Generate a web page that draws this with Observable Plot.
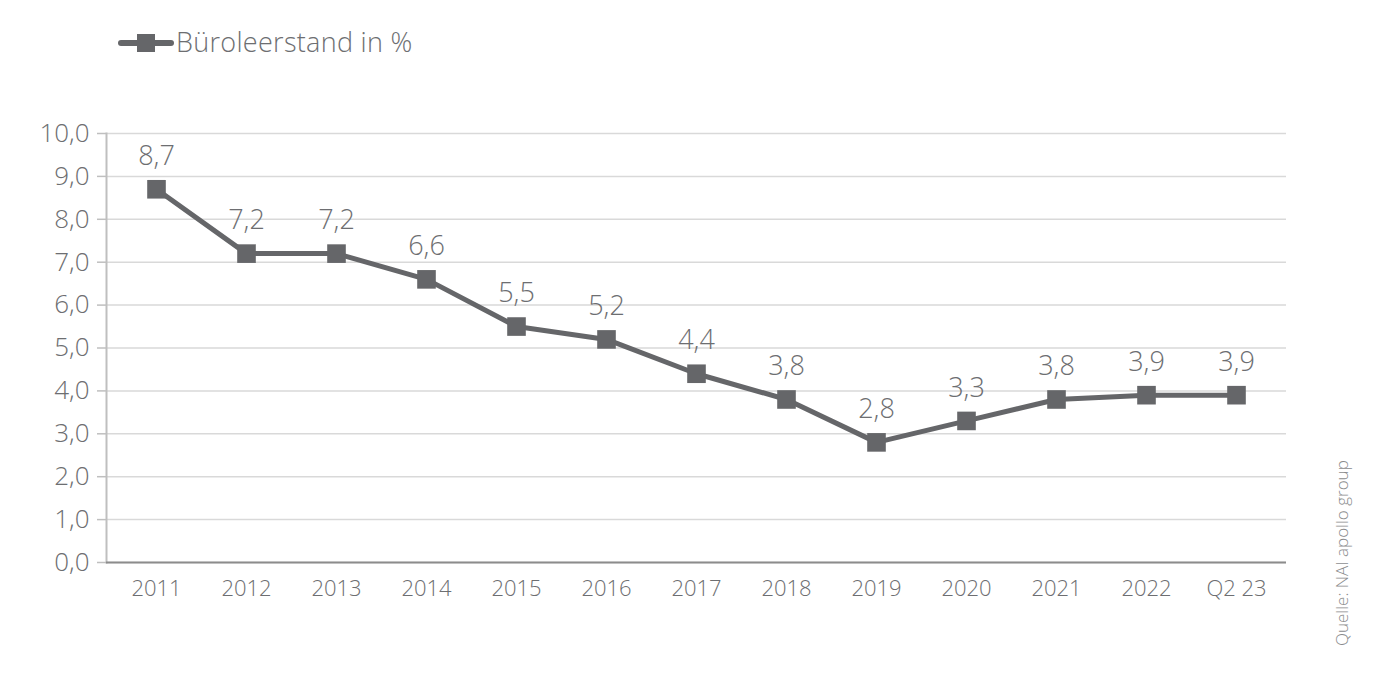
<!DOCTYPE html>
<html>
<head>
<meta charset="utf-8">
<script src="https://cdn.jsdelivr.net/npm/d3@7"></script>
<script src="https://cdn.jsdelivr.net/npm/@observablehq/plot@0.6"></script>
<style>
  body { margin: 0; background: #fff; font-family: "Open Sans", Roboto, sans-serif; font-weight: 300; }
  #wrap { position: relative; width: 1394px; height: 674px; }
  #legend { height: 90px; position: relative; }
  #legend .sw { position: absolute; left: 118px; top: 40px; width: 56px; height: 6px; background: #656669; border-radius: 3px; }
  #legend .sq { position: absolute; left: 137px; top: 34px; width: 18px; height: 18px; background: #656669; }
  #legend .lt { position: absolute; left: 176px; top: 26px; font-size: 27px; line-height: 1.2; color: #6d6e71; font-weight: 300; letter-spacing: 0.3px; }
  #source { position: absolute; left: 1330px; top: 646px; transform-origin: 0 0; transform: rotate(-90deg); font-size: 17px; color: #8a8b8d; white-space: nowrap; font-weight: 300; }
</style>
</head>
<body>
<div id="wrap">
  <div id="legend"><div class="sw"></div><div class="sq"></div><div class="lt">Büroleerstand in %</div></div>
  <div id="chart"></div>
  <div id="source">Quelle: NAI apollo group</div>
</div>
<script>
const categories = ["2011","2012","2013","2014","2015","2016","2017","2018","2019","2020","2021","2022","Q2 23"];
const values = [8.7, 7.2, 7.2, 6.6, 5.5, 5.2, 4.4, 3.8, 2.8, 3.3, 3.8, 3.9, 3.9];
const yTicks = [0,1,2,3,4,5,6,7,8,9,10];

const data = categories.map((c, i) => ({cat: c, v: values[i]}));
const fmt = d => d.toFixed(1).replace(".", ",");
const col = "#656669";

const plot = Plot.plot({
  width: 1394,
  height: 584,
  marginLeft: 106,
  marginRight: 108,
  marginTop: 43,
  marginBottom: 112,
  style: { fontFamily: "'Open Sans', Roboto, sans-serif", fontWeight: 300, background: "#fff" },
  x: { type: "point", domain: categories, padding: 0.5 },
  y: { domain: [0, 10] },
  marks: [
    Plot.gridY(yTicks, { stroke: "#d9d9d9", strokeOpacity: 1, strokeWidth: 1.5 }),
    Plot.axisY(yTicks, { tickSize: 9, tickPadding: 8, tickFormat: fmt, fontSize: 26, fill: "#6d6e71", stroke: "#bfbfbf", strokeWidth: 1.5, label: null, style: { letterSpacing: "0.5px" } }),
    Plot.axisX({ tickSize: 0, tickPadding: 18, fontSize: 22, fill: "#6d6e71", label: null }),
    Plot.frame({ anchor: "left", stroke: "#bfbfbf", strokeWidth: 2 }),
    Plot.ruleY([0], { stroke: "#8c8c8c", strokeWidth: 2 }),
    Plot.line(data, { x: "cat", y: "v", stroke: col, strokeWidth: 5 }),
    Plot.dot(data, { x: "cat", y: "v", symbol: "square", r: 10.5, fill: col, stroke: "none" }),
    Plot.text(data, { x: "cat", y: "v", text: d => fmt(d.v), dy: -33, fontSize: 27, fill: "#6d6e71" })
  ]
});
document.getElementById("chart").appendChild(plot);
</script>
</body>
</html>
